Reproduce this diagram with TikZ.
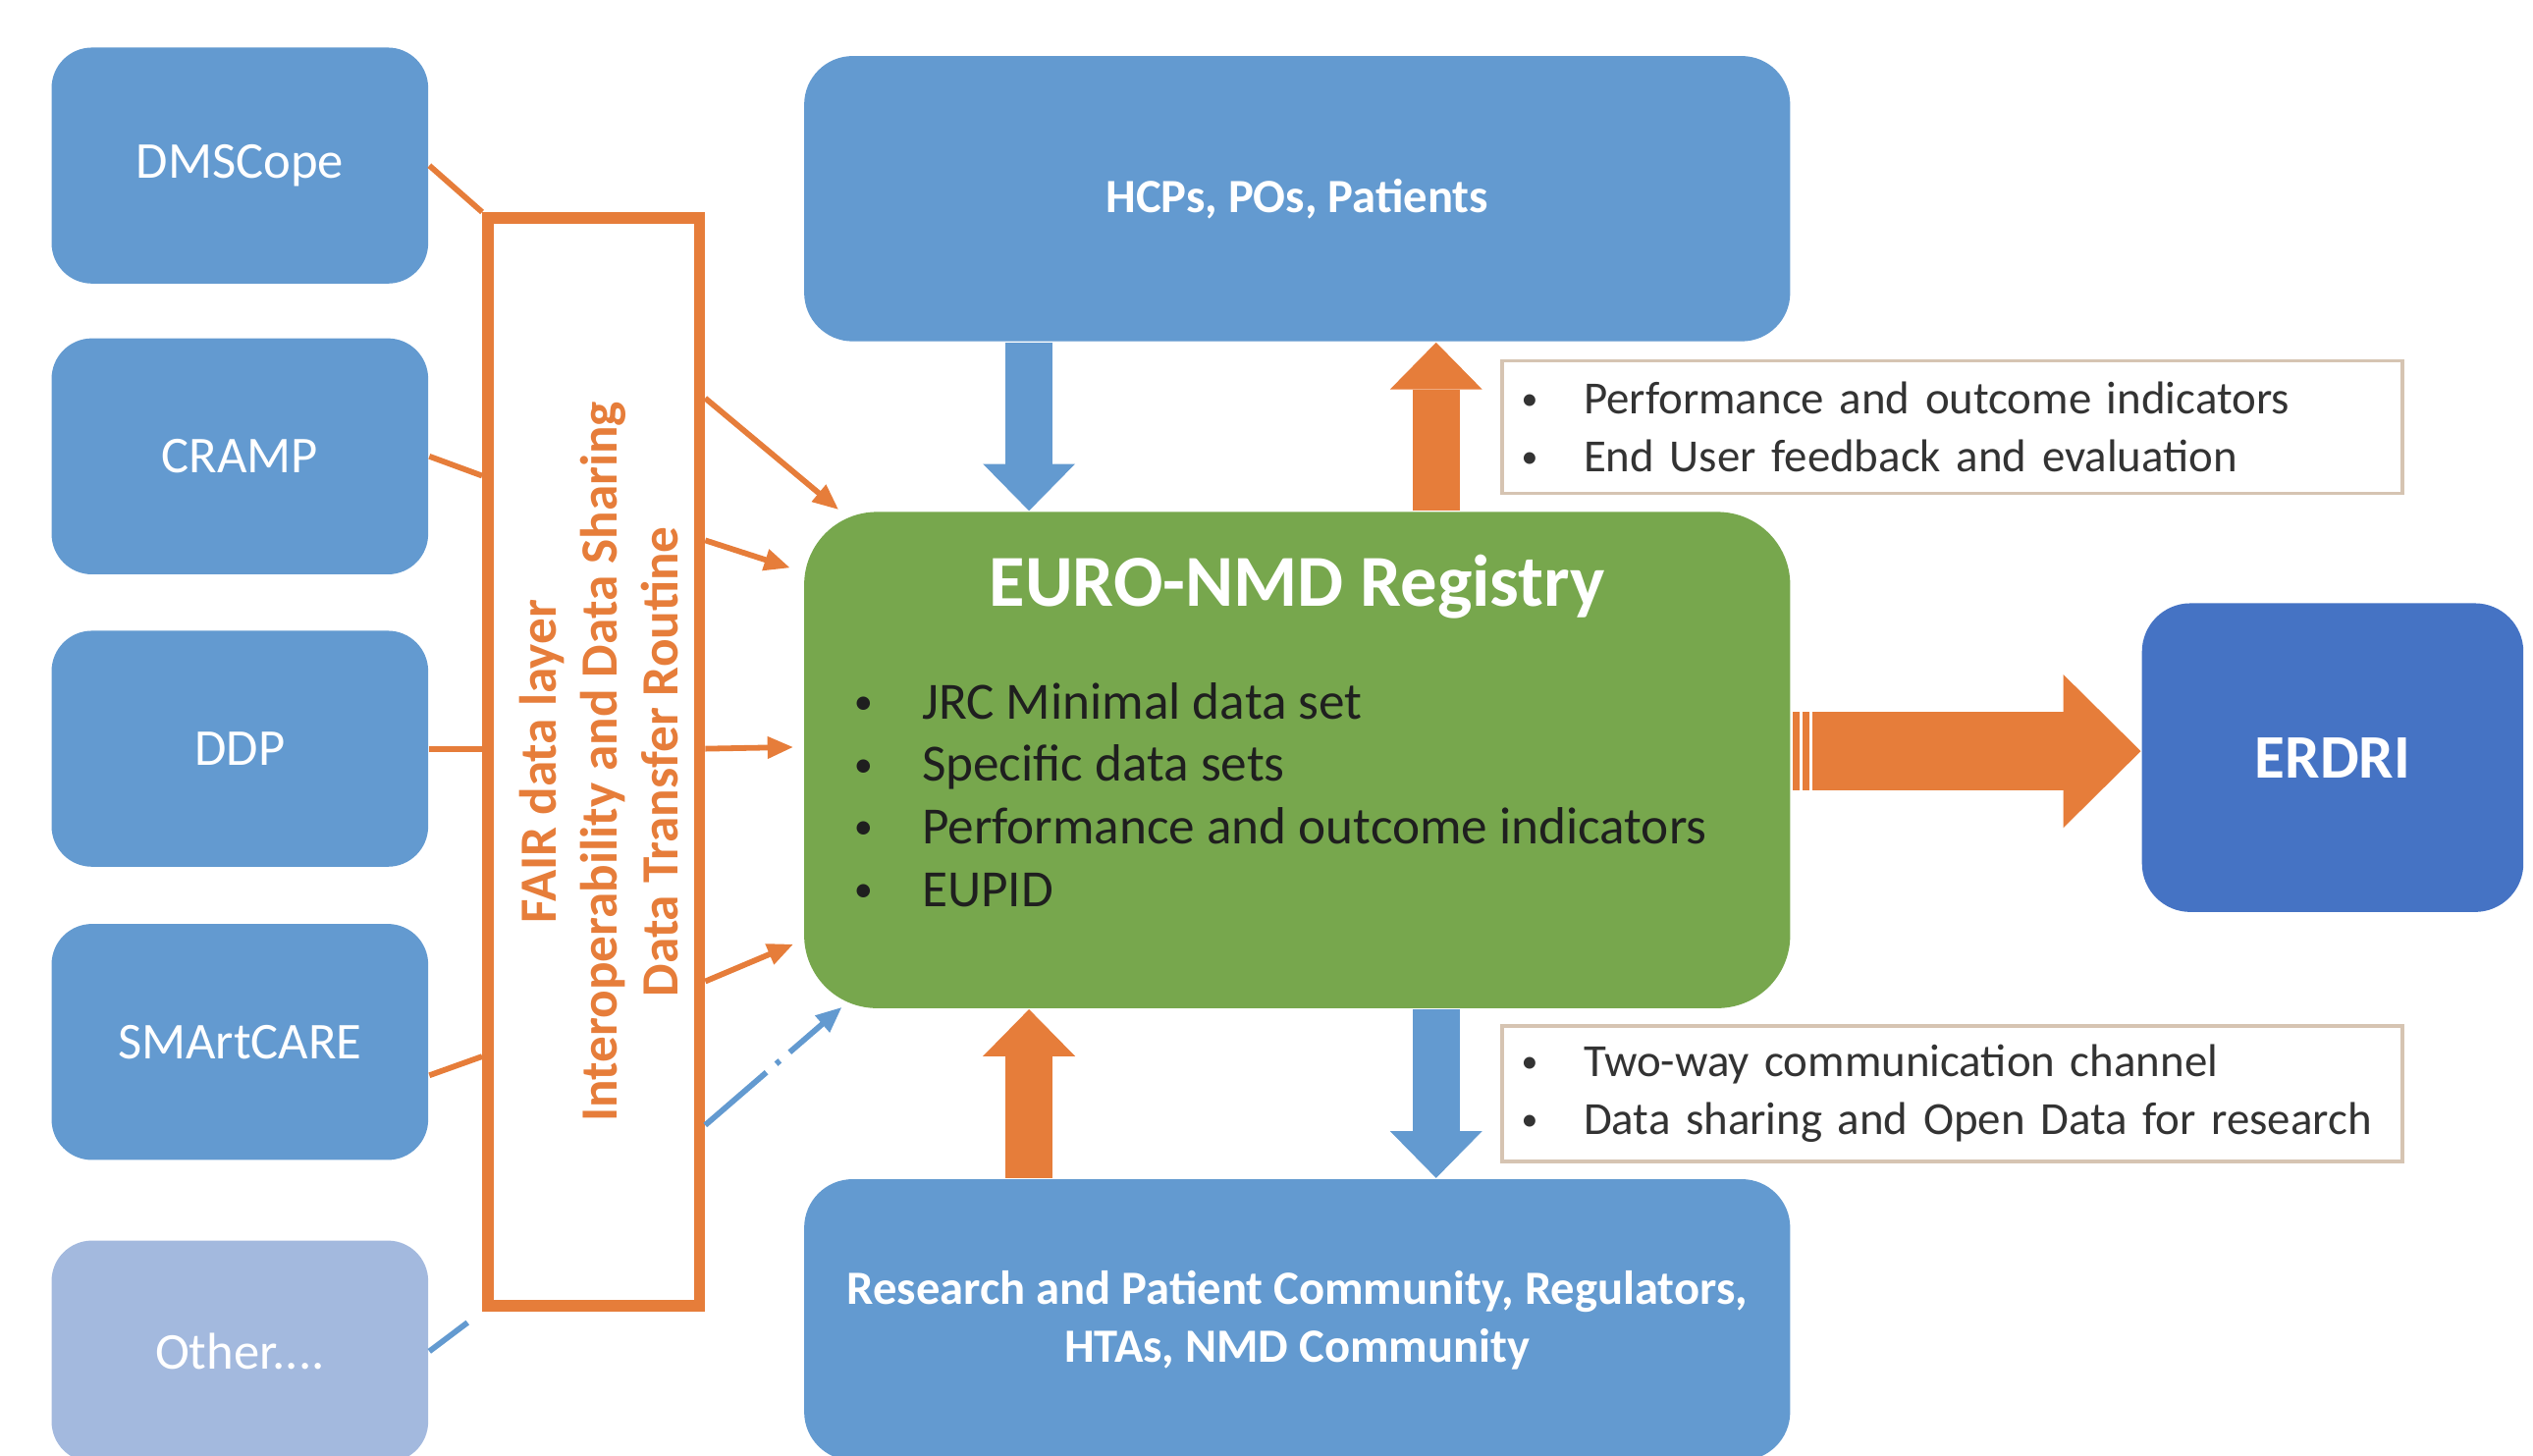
\documentclass[tikz,border=0pt]{standalone}
\usepackage{fontspec}
\setmainfont{Carlito}
\usepackage{xcolor}
\usetikzlibrary{calc, arrows.meta}

\definecolor{srcblue}{RGB}{99,154,208}
\definecolor{otherblue}{RGB}{163,185,222}
\definecolor{erdriblue}{RGB}{69,115,196}
\definecolor{reggreen}{RGB}{119,167,77}
\definecolor{fairorange}{RGB}{230,125,58}
\definecolor{noteline}{RGB}{214,196,178}

\newcommand{\bul}[1]{\makebox[#1][l]{\hspace{0.04cm}\raisebox{0.09em}{\scalebox{0.72}{\textbullet}}}}

\begin{document}
\begin{tikzpicture}[x=0.01cm, y=-0.01cm,
		srcbox/.style={fill=srcblue, rounded corners=0.25cm, minimum width=2.33cm, minimum height=1.46cm, text=white, font=\fontsize{9.1}{11}\selectfont},
		hubbox/.style={fill=srcblue, rounded corners=0.3cm, minimum width=6.1cm, text=white, font=\bfseries\fontsize{8.4}{10.2}\selectfont, align=center},
		notebox/.style={draw=noteline, fill=white, line width=0.6pt, text width=5.41cm, inner xsep=0.08cm, minimum height=0.82cm, align=left, text=black!80, font=\fontsize{8.1}{10.2}\selectfont},
		feedline/.style={fairorange, line width=1pt, -{Triangle[length=0.16cm, width=0.13cm]}},
		dashdot/.style={srcblue, line width=1pt, dash pattern=on 0.5cm off 0.08cm on 0.03cm off 0.08cm},
		blockarrow/.style={line width=0.29cm, -{Triangle[length=0.29cm, width=0.57cm, line width=0pt]}},
		bigarrow/.style={line width=0.49cm, -{Triangle[length=0.48cm, width=0.95cm, line width=0pt]}}
	]
	\def\srcX{148.5};
	\def\midX{803};

	\useasboundingbox (0,0) rectangle (1568,901);

	\node [srcbox] (dms) at (\srcX,102.5) {DMSCope};
	\node [srcbox] (cramp) at (\srcX,282.5) {CRAMP};
	\node [srcbox] (ddp) at (\srcX,463.5) {DDP};
	\node [srcbox] (smart) at (\srcX,645) {SMArtCARE};
	\node [srcbox, fill=otherblue, minimum height=1.37cm] (other) at (\srcX,836.5) {Other....};

	\node [draw=fairorange, line width=2pt, minimum width=1.31cm, minimum height=6.73cm] (fair) at (367.5,471.5) {};
	\node [rotate=90, text=fairorange, align=center, font=\bfseries\fontsize{9.2}{10.7}\selectfont] (fairtxt) at ($(fair.center)+(3,0)$) {FAIR data layer\\Interoperability and Data Sharing\\Data Transfer Routine};

	\node [hubbox, minimum height=1.765cm] (hcp) at (\midX,123) {HCPs, POs, Patients};
	\node [fill=reggreen, rounded corners=0.45cm, minimum width=6.1cm, minimum height=3.07cm] (reg) at (\midX,470.5) {};
	\node [text=white, font=\bfseries\fontsize{12.9}{15}\selectfont] (regtitle) at ($(reg.north)+(0,47)$) {EURO-NMD Registry};
	\node [anchor=west, align=left, inner sep=0pt, text=black!88, font=\fontsize{9.2}{11}\selectfont] (reglist) at (524,492) {\bul{0.46cm}JRC Minimal data set\\\bul{0.46cm}Specific data sets\\\bul{0.46cm}Performance and outcome indicators\\\bul{0.46cm}EUPID};
	\node [hubbox, minimum height=1.74cm] (research) at (\midX,817) {Research and Patient Community, Regulators,\\HTAs, NMD Community};
	\node [fill=erdriblue, rounded corners=0.3cm, minimum width=2.36cm, minimum height=1.91cm, text=white, font=\bfseries\fontsize{10.9}{13}\selectfont] (erdri) at (1444,469) {ERDRI};

	\node [notebox] (upnote) at (1208.5,264.5) {\bul{0.425cm}Performance and outcome indicators\\\bul{0.425cm}End User feedback and evaluation};
	\node [notebox] (downnote) at (1208.5,677) {\bul{0.425cm}Two-way communication channel\\\bul{0.425cm}Data sharing and Open Data for research};

	\begin{scope}[fairorange, line width=1pt]
		\draw (dms.east) -- (fair.north west);
		\draw (cramp.east) -- ($(fair.west |- cramp.east)+(0,12)$);
		\draw (ddp.east) -- (fair.west |- ddp.east);
		\draw (smart.-10) -- ($(fair.west |- smart.east)+(0,9)$);
	\end{scope}
	\draw [dashdot] (other.east) -- ($(fair.south west)+(-9,7)$);

	\draw [feedline] ($(fair.east)+(0,-225)$) -- ($(reg.west)+(22,-155)$);
	\draw [feedline] ($(fair.east)+(0,-137)$) -- ($(reg.west)+(-8,-119)$);
	\draw [feedline] ($(fair.east)+(0,-8)$) -- ($(reg.west)+(-6,-8)$);
	\draw [feedline] ($(fair.east)+(0,136)$) -- ($(reg.west)+(-6,114)$);
	\draw [dashdot, -{Triangle[length=0.16cm, width=0.13cm]}] ($(fair.east)+(0,225)$) -- ($(reg.west)+(24,153)$);

	\draw [blockarrow, srcblue] ($(hcp.south)+(-166,0)$) -- ($(reg.north)+(-166,0)$);
	\draw [blockarrow, fairorange] ($(reg.north)+(86,0)$) -- ($(hcp.south)+(86,0)$);
	\draw [blockarrow, srcblue] ($(reg.south)+(86,0)$) -- ($(research.north)+(86,0)$);
	\draw [blockarrow, fairorange] ($(research.north)+(-166,0)$) -- ($(reg.south)+(-166,0)$);

	\draw [bigarrow, fairorange] ($(reg.east |- erdri.west)+(1,-4)$) -- ($(erdri.west)+(0,-4)$);
	\draw [white, line width=0.02cm] ($(reg.east |- erdri.west)+(6,-30)$) -- ++(0,52);
	\draw [white, line width=0.02cm] ($(reg.east |- erdri.west)+(12,-30)$) -- ++(0,52);
\end{tikzpicture}
\end{document}
